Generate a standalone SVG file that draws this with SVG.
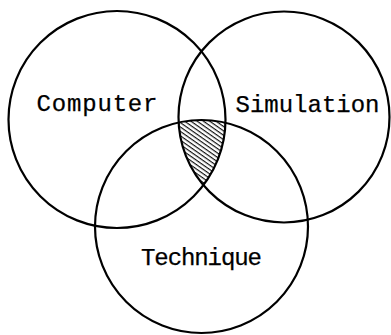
<svg xmlns="http://www.w3.org/2000/svg" width="391" height="335" viewBox="0 0 391 335">
<style>
.c{fill:none;stroke:#000;stroke-width:2.2}
.t{font-family:"Liberation Mono","Courier New",monospace;font-size:24px;fill:#000;stroke:#000;stroke-width:0.25;text-anchor:middle}
</style>
<defs>
<pattern id="hatch" width="3.6" height="3.6" patternUnits="userSpaceOnUse" patternTransform="rotate(35)">
<line x1="0" y1="0.6" x2="3.6" y2="0.6" stroke="#000" stroke-width="1.1"/>
</pattern>
<clipPath id="cA"><circle cx="117" cy="119.5" r="108.5"/></clipPath>
<clipPath id="cB"><circle cx="284" cy="117" r="105.5"/></clipPath>
<clipPath id="cC"><circle cx="201.5" cy="226.5" r="106.5"/></clipPath>
</defs>
<rect width="391" height="335" fill="#fff"/>
<g id="overlap">
<g clip-path="url(#cA)"><g clip-path="url(#cB)"><rect x="0" y="0" width="391" height="335" fill="url(#hatch)" clip-path="url(#cC)"/></g></g>
</g>
<g id="computer">
<circle class="c" cx="117" cy="119.5" r="108.5"/>
<text class="t" x="97" y="111" textLength="121" lengthAdjust="spacing">Computer</text>
</g>
<g id="simulation">
<circle class="c" cx="284" cy="117" r="105.5"/>
<text class="t" x="307.5" y="111.5" textLength="144" lengthAdjust="spacing">Simulation</text>
</g>
<g id="technique">
<circle class="c" cx="201.5" cy="226.5" r="106.5"/>
<text class="t" x="201.5" y="265" textLength="121" lengthAdjust="spacing">Technique</text>
</g>
</svg>
